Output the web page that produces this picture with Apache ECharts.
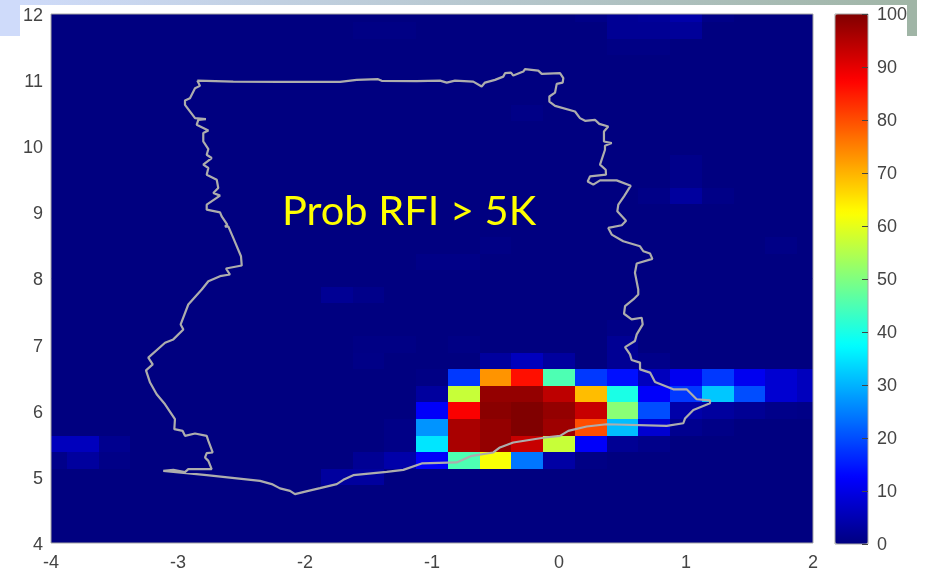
<!DOCTYPE html>
<html>
<head>
<meta charset="utf-8">
<style>html,body{margin:0;padding:0;background:#fff}#c{width:925px;height:572px}</style>
<script src="https://cdn.jsdelivr.net/npm/echarts@6/dist/echarts.min.js"></script>
</head>
<body>
<div id="c"></div>
<script>
const titleText = 'Prob RFI > 5K';
const xTickMin = -4, xTickMax = 2, yTickMin = 4, yTickMax = 12;
const cellStep = 0.25;
const longitudes = [-4,-3.75,-3.5,-3.25,-3,-2.75,-2.5,-2.25,-2,-1.75,-1.5,-1.25,-1,-0.75,-0.5,-0.25,0,0.25,0.5,0.75,1,1.25,1.5,1.75,2];
const latitudes = [12,11.75,11.5,11.25,11,10.75,10.5,10.25,10,9.75,9.5,9.25,9,8.75,8.5,8.25,8,7.75,7.5,7.25,7,6.75,6.5,6.25,6,5.75,5.5,5.25,5,4.75,4.5,4.25,4];
const jetColors = ['#000080','#0000ff','#0080ff','#00ffff','#80ff80','#ffff00','#ff8000','#ff0000','#800000'];
// probability (%) per cell, one row per latitude from 12 down to 4, one column per longitude
const probRows = [
[0,0,0,0,0,0,0,0,0,0,0,0,0,0,0,0,0,0.7,2,2.5,4,0.7,0,0,0],
[0,0,0,0,0,0,0,0,0,0,0.5,0.5,0,0,0,0,0,0,2,2,2.5,0,0,0,0],
[0,0,0,0,0,0,0,0,0,0,0,0,0,0,0,0,0,0,0.5,0.5,0,0,0,0,0],
[0,0,0,0,0,0,0,0,0,0,0,0,0,0,0,0,0,0,0,0,0,0,0,0,0],
[0,0,0,0,0,0,0,0,0,0,0,0,0,0,0,0,0,0,0,0,0,0,0,0,0],
[0,0,0,0,0,0,0,0,0,0,0,0,0,0,0,0,0,0,0,0,0,0,0,0,0],
[0,0,0,0,0,0,0,0,0,0,0,0,0,0,0,0.7,0,0,0,0,0,0,0,0,0],
[0,0,0,0,0,0,0,0,0,0,0,0,0,0,0,0,0,0,0,0,0,0,0,0,0],
[0,0,0,0,0,0,0,0,0,0,0,0,0,0,0,0,0,0,0,0,0,0,0,0,0],
[0,0,0,0,0,0,0,0,0,0,0,0,0,0,0,0,0,0,0,0,1,0,0,0,0],
[0,0,0,0,0,0,0,0,0,0,0,0,0,0,0,0,0,0,0,0,1,0,0,0,0],
[0,0,0,0,0,0,0,0,0,0,0,0,0,0,0,0,0,0,0,0.7,3,0.7,0,0,0],
[0,0,0,0,0,0,0,0,0,0,0,0,0,0,0,0,0,0,0,0,0,0,0,0,0],
[0,0,0,0,0,0,0,0,0,0,0,0,0,0,0,0,0,0,0,0,0,0,0,0,0],
[0,0,0,0,0,0,0,0,0,0,0,0,0,0,0.5,0,0,0,0,0,0,0,0,0.7,0],
[0,0,0,0,0,0,0,0,0,0,0,0,0.7,0.7,0,0,0,0,0,0,0,0,0,0,0],
[0,0,0,0,0,0,0,0,0,0,0,0,0,0,0,0,0,0,0,0,0,0,0,0,0],
[0,0,0,0,0,0,0,0,0,2,1,0,0,0,0,0,0,0,0,0,0,0,0,0,0],
[0,0,0,0,0,0,0,0,0,0,0,0,0,0,0,0,0,0,0,0,0,0,0,0,0],
[0,0,0,0,0,0,0,0,0,0,0,0,0,0,0,0,0,0,0.7,0,0,0,0,0,0],
[0,0,0,0,0,0,0,0,0,0,0.5,0.5,0,0.5,0,0,0,0,2,0,0,0,0,0,0],
[0,0,0,0,0,0,0,0,0,0,0.7,0,0,0,3,6,3,0,2,1,0,0,0,0,0],
[0,0,0,0,0,0,0,0,0,0,0,0,0.5,18,73,86,45,18,14,6,11,18,11,8,6],
[0,0,0,0,0,0,0,0,0,0,0,0,3,57,98,98,94,69,40,12,18,32,20,8,6],
[0,0,0,0,0,0,0,0,0,0,0,0,12,88,99,100,98,93,51,20,4,3,2,1,0.7],
[0,0,0,0,0,0,0,0,0,0,0,0.7,27,96,98,100,97,80,31,8,1.5,0.7,0,0,0],
[6,6,1.5,0,0,0,0,0,0,0,0,0.7,35,96,98,93,57,12,2,1,0,0,0,0,0],
[1,3,0.7,0,0,0,0,0,0,0,2,4,12,45,62,24,3.5,0.5,0,0,0,0,0,0,0],
[0,0,0,0,0,0,0,0,0,3,3,0,0,0,0,0,0,0,0,0,0,0,0,0,0],
[0,0,0,0,0,0,0,0,0,0,0,0,0,0,0,0,0,0,0,0,0,0,0,0,0],
[0,0,0,0,0,0,0,0,0,0,0,0,0,0,0,0,0,0,0,0,0,0,0,0,0],
[0,0,0,0,0,0,0,0,0,0,0,0,0,0,0,0,0,0,0,0,0,0,0,0,0],
[0,0,0,0,0,0,0,0,0,0,0,0,0,0,0,0,0,0,0,0,0,0,0,0,0]
];
const borderLon = [-2.848,-2.565,-2.197,-1.724,-1.593,-1.425,-1.396,-1.120,-0.937,-0.884,-0.819,-0.675,-0.609,-0.583,-0.504,-0.439,-0.425,-0.378,-0.360,-0.281,-0.268,-0.163,-0.136,0.008,0.034,0.029,-0.018,-0.031,-0.076,-0.076,-0.031,0.126,0.165,0.205,0.283,0.317,0.388,0.354,0.354,0.415,0.362,0.362,0.323,0.368,0.370,0.244,0.226,0.270,0.323,0.454,0.565,0.512,0.467,0.459,0.528,0.494,0.388,0.415,0.506,0.638,0.664,0.717,0.735,0.612,0.598,0.624,0.624,0.585,0.520,0.512,0.572,0.651,0.659,0.612,0.598,0.520,0.559,0.572,0.638,0.638,0.717,0.756,0.900,1.005,1.084,1.189,1.189,1.058,0.992,0.979,0.848,0.376,0.218,0.073,0.008,-0.110,-0.360,-0.465,-0.517,-0.687,-0.806,-1.081,-1.226,-1.357,-1.620,-1.698,-1.750,-1.882,-1.974,-2.079,-2.118,-2.197,-2.262,-2.354,-2.774,-3.116,-3.037,-2.945,-2.919,-2.735,-2.761,-2.787,-2.774,-2.727,-2.761,-2.774,-2.866,-2.945,-2.963,-3.029,-3.024,-3.102,-3.168,-3.220,-3.252,-3.199,-3.234,-3.102,-3.037,-2.958,-2.979,-2.919,-2.813,-2.761,-2.669,-2.591,-2.622,-2.498,-2.504,-2.565,-2.604,-2.630,-2.612,-2.656,-2.669,-2.774,-2.774,-2.669,-2.722,-2.683,-2.695,-2.774,-2.761,-2.801,-2.735,-2.774,-2.761,-2.801,-2.801,-2.761,-2.853,-2.840,-2.780,-2.866,-2.945,-2.945,-2.906,-2.866,-2.827,-2.848];
const borderLat = [10.993,10.978,10.973,10.973,11.004,11.014,10.989,10.984,10.993,10.963,10.993,10.978,10.903,10.963,11.004,11.053,11.105,11.114,11.069,11.129,11.165,11.144,11.094,11.105,11.029,10.963,10.943,10.812,10.752,10.676,10.611,10.525,10.425,10.385,10.400,10.339,10.299,10.223,10.072,10.048,10.007,9.947,9.721,9.645,9.570,9.544,9.468,9.419,9.484,9.484,9.404,9.242,9.117,9.016,8.875,8.805,8.765,8.664,8.563,8.487,8.412,8.377,8.297,8.226,8.086,7.834,7.758,7.683,7.582,7.467,7.381,7.407,7.306,7.155,7.054,6.963,6.853,6.767,6.728,6.626,6.577,6.435,6.324,6.324,6.174,6.158,6.113,6.012,5.882,5.811,5.771,5.796,5.762,5.695,5.620,5.595,5.520,5.445,5.369,5.318,5.218,5.203,5.106,5.076,5.026,4.955,4.891,4.830,4.789,4.740,4.789,4.826,4.891,4.940,5.026,5.091,5.106,5.072,5.117,5.117,5.242,5.294,5.358,5.369,5.544,5.620,5.656,5.620,5.695,5.721,5.872,6.098,6.249,6.426,6.611,6.702,6.803,7.029,7.079,7.230,7.306,7.607,7.834,7.959,8.035,8.060,8.151,8.196,8.337,8.614,8.789,8.785,8.815,8.940,9.001,9.041,9.117,9.253,9.293,9.369,9.494,9.570,9.671,9.721,9.822,9.872,9.958,10.072,10.199,10.238,10.324,10.400,10.410,10.425,10.626,10.691,10.727,10.878,10.913,10.993];

const cellData = [];
probRows.forEach((row, r) => row.forEach((v, c) => cellData.push([longitudes[c], latitudes[r], v])));
const borderData = borderLon.map((lon, i) => [lon, borderLat[i]]);
const tickColor = '#444';
const tickFont = { color: tickColor, fontSize: 18, fontFamily: 'Liberation Sans, Arial, sans-serif' };
const frame = '#a6a6a6';
const richLabel = (topPad) => ({ t: Object.assign({ padding: [topPad, 0, 0, 0] }, tickFont) });

const chart = echarts.init(document.getElementById('c'), null, { renderer: 'canvas' });
chart.setOption({
  animation: false,
  backgroundColor: '#ffffff',
  graphic: [
    { type: 'rect', z: -1, shape: { x: 0, y: 0, width: 917, height: 5 }, style: { fill: new echarts.graphic.LinearGradient(0, 0, 1, 0, [{ offset: 0, color: '#d0dcfb' }, { offset: 1, color: '#a0b5a6' }]) } },
    { type: 'rect', z: -1, shape: { x: 0, y: 0, width: 20, height: 36 }, style: { fill: '#cfdbfa' } },
    { type: 'rect', z: -1, shape: { x: 907, y: 0, width: 10, height: 36 }, style: { fill: '#a0b5a6' } }
  ],
  title: {
    text: titleText, left: 282, top: 191, padding: 0, z: 8,
    textStyle: { color: '#ffff00', fontSize: 41.5, fontWeight: 'normal', fontFamily: 'Lato, sans-serif' }
  },
  grid: [
    { left: 51, top: 14, width: 762, height: 530, show: true, z: 5, backgroundColor: 'transparent', borderColor: frame, borderWidth: 1 },
    { left: 835, top: 14, width: 33, height: 530, show: true, z: 5, backgroundColor: 'transparent', borderColor: frame, borderWidth: 1 }
  ],
  xAxis: [
    { type: 'value', gridIndex: 0, min: xTickMin, max: xTickMax, interval: 1, splitLine: { show: false }, axisLine: { show: false }, axisTick: { show: false }, axisLabel: Object.assign({ margin: 11, showMinLabel: true, showMaxLabel: true }, tickFont) },
    { type: 'value', gridIndex: 1, min: 0, max: 1, show: false }
  ],
  yAxis: [
    { type: 'value', gridIndex: 0, min: yTickMin, max: yTickMax, interval: 1, splitLine: { show: false }, axisLine: { show: false, onZero: false }, axisTick: { show: false }, axisLabel: { margin: 8, formatter: '{t|{value}}', rich: richLabel(4), showMinLabel: true, showMaxLabel: true } },
    { type: 'value', gridIndex: 1, position: 'right', min: 0, max: 100, interval: 10, z: 6, splitLine: { show: false }, axisLine: { show: false, onZero: false }, axisTick: { show: true, inside: true, length: 6, lineStyle: { color: '#444', width: 1 } }, axisLabel: { margin: 9, formatter: '{t|{value}}', rich: richLabel(2), showMinLabel: true, showMaxLabel: true } }
  ],
  visualMap: {
    type: 'continuous', min: 0, max: 100, seriesIndex: 0, dimension: 2, calculable: false, hoverLink: false, realtime: false,
    left: 835, top: 14, itemWidth: 33, itemHeight: 530, padding: 0, text: null, showLabel: false, z: 4,
    inRange: { color: jetColors }
  },
  series: [
    {
      type: 'custom', xAxisIndex: 0, yAxisIndex: 0, clip: true, z: 2, data: cellData, encode: { x: 0, y: 1 },
      renderItem(params, api) {
        const lon = api.value(0), lat = api.value(1), h = cellStep / 2;
        const a = api.coord([lon - h, lat + h]), b = api.coord([lon + h, lat - h]);
        return { type: 'rect', shape: { x: Math.round(a[0]), y: Math.round(a[1]), width: Math.round(b[0]) - Math.round(a[0]), height: Math.round(b[1]) - Math.round(a[1]) }, style: { fill: api.visual('color') } };
      }
    },
    {
      type: 'line', xAxisIndex: 0, yAxisIndex: 0, z: 3, data: borderData, symbol: 'none', smooth: false,
      lineStyle: { color: '#adadad', width: 2.2 }
    }
  ]
});
</script>
</body>
</html>
